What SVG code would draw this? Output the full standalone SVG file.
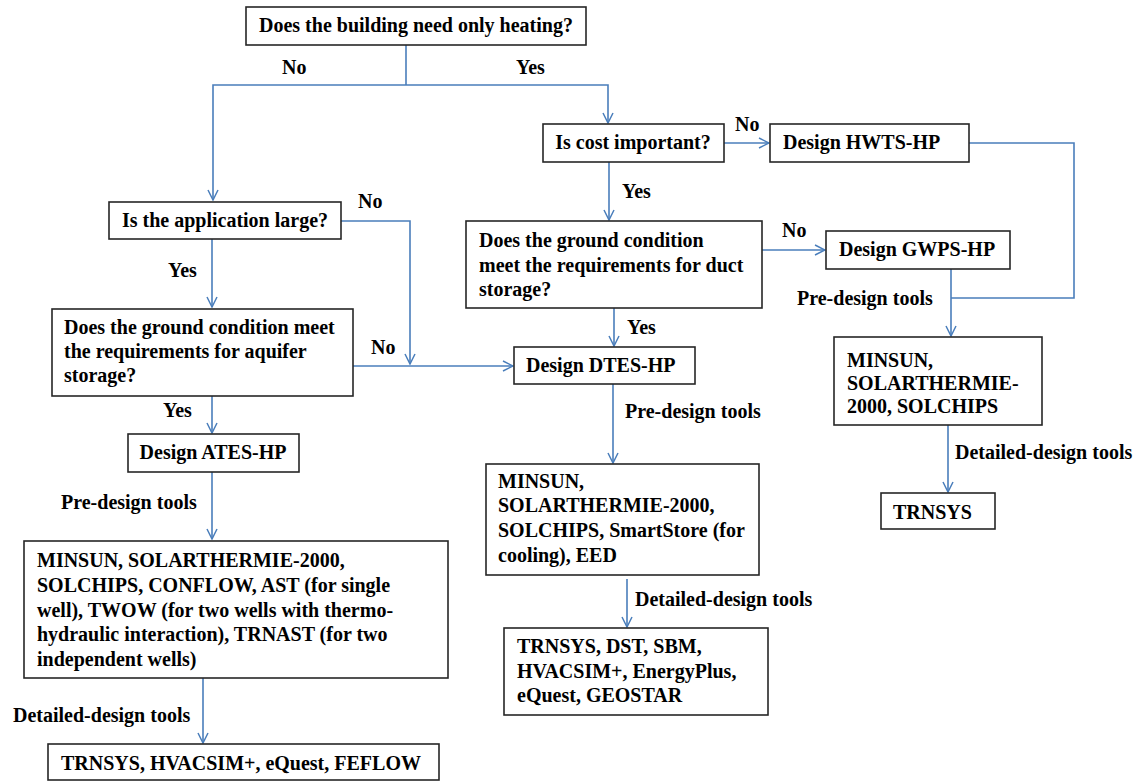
<svg xmlns="http://www.w3.org/2000/svg" width="1134" height="782" viewBox="0 0 1134 782">
<style>
.box{fill:#fff;stroke:#262626;stroke-width:1.6}
.t{font-family:"Liberation Serif","Times New Roman",serif;font-weight:bold;font-size:20px;fill:#000}
.c{fill:none;stroke:#4a7ebb;stroke-width:1.6}
</style>
<defs>
<marker id="ar" viewBox="0 0 12 12" refX="11" refY="6" markerWidth="12" markerHeight="12" markerUnits="userSpaceOnUse" orient="auto">
<path d="M1,1 L11,6 L1,11" fill="none" stroke="#4a7ebb" stroke-width="1.5"/>
</marker>
</defs>
<rect width="1134" height="782" fill="#fff"/>
<g id="connectors">
<path class="c" d="M406,45 V85"/>
<path class="c" d="M406,85 H213 V200" marker-end="url(#ar)"/>
<path class="c" d="M406,85 H608 V123" marker-end="url(#ar)"/>
<path class="c" d="M341,221 H410 V364" marker-end="url(#ar)"/>
<path class="c" d="M212,239 V307" marker-end="url(#ar)"/>
<path class="c" d="M353,366 H513" marker-end="url(#ar)"/>
<path class="c" d="M212,396 V433" marker-end="url(#ar)"/>
<path class="c" d="M212,472 V539" marker-end="url(#ar)"/>
<path class="c" d="M203,678 V743" marker-end="url(#ar)"/>
<path class="c" d="M724,143 H769" marker-end="url(#ar)"/>
<path class="c" d="M609,162 V220" marker-end="url(#ar)"/>
<path class="c" d="M969,143 H1074 V298 H951"/>
<path class="c" d="M762,250 H825" marker-end="url(#ar)"/>
<path class="c" d="M951,269 V336" marker-end="url(#ar)"/>
<path class="c" d="M614,308 V346" marker-end="url(#ar)"/>
<path class="c" d="M613,384 V463" marker-end="url(#ar)"/>
<path class="c" d="M627,579 V627" marker-end="url(#ar)"/>
<path class="c" d="M948,425 V492" marker-end="url(#ar)"/>
</g>
<g id="labels">
<text class="t" x="282" y="74">No</text>
<text class="t" x="516" y="74">Yes</text>
<text class="t" x="358" y="208">No</text>
<text class="t" x="168" y="277">Yes</text>
<text class="t" x="371" y="354">No</text>
<text class="t" x="163" y="417">Yes</text>
<text class="t" x="61" y="509">Pre-design tools</text>
<text class="t" x="13" y="722">Detailed-design tools</text>
<text class="t" x="735" y="131">No</text>
<text class="t" x="622" y="198">Yes</text>
<text class="t" x="782" y="237">No</text>
<text class="t" x="627" y="334">Yes</text>
<text class="t" x="797" y="305">Pre-design tools</text>
<text class="t" x="625" y="418">Pre-design tools</text>
<text class="t" x="635" y="606">Detailed-design tools</text>
<text class="t" x="955" y="459">Detailed-design tools</text>
</g>
<g id="n-heating">
<rect class="box" x="246" y="7" width="340" height="38"/>
<text class="t" x="416" y="32" text-anchor="middle">Does the building need only heating?</text>
</g>
<g id="n-large">
<rect class="box" x="109" y="202" width="232" height="37"/>
<text class="t" x="225" y="227" text-anchor="middle">Is the application large?</text>
</g>
<g id="n-aquifer">
<rect class="box" x="52" y="309" width="301" height="87"/>
<text class="t" x="64" y="334">Does the ground condition meet</text>
<text class="t" x="64" y="358">the requirements for aquifer</text>
<text class="t" x="64" y="382">storage?</text>
</g>
<g id="n-ates">
<rect class="box" x="128" y="434" width="171" height="38"/>
<text class="t" x="213" y="459" text-anchor="middle">Design ATES-HP</text>
</g>
<g id="n-ates-pre">
<rect class="box" x="24" y="541" width="424" height="137"/>
<text class="t" x="37" y="567">MINSUN, SOLARTHERMIE-2000,</text>
<text class="t" x="37" y="592">SOLCHIPS, CONFLOW, AST (for single</text>
<text class="t" x="37" y="617">well), TWOW  (for two wells with thermo-</text>
<text class="t" x="37" y="641">hydraulic interaction), TRNAST (for two</text>
<text class="t" x="37" y="666">independent wells)</text>
</g>
<g id="n-ates-det">
<rect class="box" x="48" y="744" width="391" height="36"/>
<text class="t" x="61" y="770">TRNSYS, HVACSIM+, eQuest, FEFLOW</text>
</g>
<g id="n-cost">
<rect class="box" x="543" y="124" width="181" height="38"/>
<text class="t" x="633" y="149" text-anchor="middle">Is cost important?</text>
</g>
<g id="n-hwts">
<rect class="box" x="770" y="124" width="199" height="38"/>
<text class="t" x="783" y="149">Design HWTS-HP</text>
</g>
<g id="n-duct">
<rect class="box" x="466" y="221" width="296" height="87"/>
<text class="t" x="479" y="247">Does the ground condition</text>
<text class="t" x="479" y="272">meet the requirements for duct</text>
<text class="t" x="479" y="296">storage?</text>
</g>
<g id="n-gwps">
<rect class="box" x="826" y="231" width="184" height="38"/>
<text class="t" x="839" y="256">Design GWPS-HP</text>
</g>
<g id="n-dtes">
<rect class="box" x="514" y="347" width="181" height="37"/>
<text class="t" x="526" y="372">Design DTES-HP</text>
</g>
<g id="n-dtes-pre">
<rect class="box" x="486" y="464" width="273" height="111"/>
<text class="t" x="498" y="488">MINSUN,</text>
<text class="t" x="498" y="512">SOLARTHERMIE-2000,</text>
<text class="t" x="498" y="537">SOLCHIPS, SmartStore (for</text>
<text class="t" x="498" y="562">cooling), EED</text>
</g>
<g id="n-dtes-det">
<rect class="box" x="504" y="628" width="264" height="87"/>
<text class="t" x="517" y="653">TRNSYS, DST, SBM,</text>
<text class="t" x="517" y="678">HVACSIM+, EnergyPlus,</text>
<text class="t" x="517" y="702">eQuest, GEOSTAR</text>
</g>
<g id="n-hp-pre">
<rect class="box" x="834" y="337" width="208" height="88"/>
<text class="t" x="847" y="367">MINSUN,</text>
<text class="t" x="847" y="390">SOLARTHERMIE-</text>
<text class="t" x="847" y="413">2000, SOLCHIPS</text>
</g>
<g id="n-hp-det">
<rect class="box" x="881" y="493" width="114" height="36"/>
<text class="t" x="893" y="519">TRNSYS</text>
</g>
</svg>
